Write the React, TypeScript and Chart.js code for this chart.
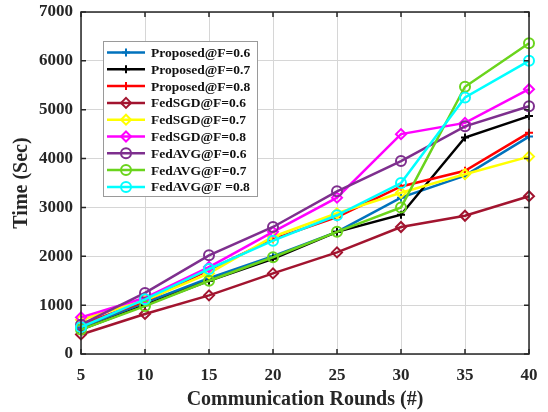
import React, { useEffect, useRef } from "react";
import { Chart, registerables } from "chart.js";

Chart.register(...registerables);

const rounds = [5, 10, 15, 20, 25, 30, 35, 40];
const yMin = 0;
const yMax = 7000;
const yStep = 1000;
const xStep = 5;

const proposed06 = [550, 1050, 1550, 2000, 2500, 3200, 3650, 4450];
const proposed07 = [500, 1000, 1500, 1950, 2500, 2850, 4430, 4870];
const proposed08 = [600, 1080, 1720, 2350, 2800, 3430, 3750, 4530];
const fedsgd06 = [400, 820, 1200, 1650, 2080, 2600, 2830, 3230];
const fedsgd07 = [700, 1100, 1650, 2400, 2880, 3300, 3680, 4040];
const fedsgd08 = [750, 1150, 1780, 2500, 3200, 4500, 4730, 5420];
const fedavg06 = [600, 1250, 2020, 2600, 3330, 3950, 4660, 5070];
const fedavg07 = [500, 980, 1500, 1980, 2500, 3000, 5470, 6360];
const fedavg08 = [550, 1120, 1740, 2320, 2840, 3500, 5250, 6000];

const seriesLabels = [
  "Proposed@F=0.6",
  "Proposed@F=0.7",
  "Proposed@F=0.8",
  "FedSGD@F=0.6",
  "FedSGD@F=0.7",
  "FedSGD@F=0.8",
  "FedAVG@F=0.6",
  "FedAVG@F=0.7",
  "FedAVG@F =0.8",
];
const seriesValues = [
  proposed06, proposed07, proposed08,
  fedsgd06, fedsgd07, fedsgd08,
  fedavg06, fedavg07, fedavg08,
];
const seriesColors = [
  "#0072BD", "#000000", "#FF0000",
  "#A2142F", "#FFFF00", "#FF00FF",
  "#7E2F8E", "#6AD41C", "#00FFFF",
];
const seriesMarkers = [
  "cross", "cross", "cross",
  "rectRot", "rectRot", "rectRot",
  "circle", "circle", "circle",
];

const FONT = "'Liberation Serif', 'Times New Roman', serif";
const AXIS_COLOR = "#262626";

function drawMarker(ctx: CanvasRenderingContext2D, style: string, x: number, y: number, r: number) {
  ctx.beginPath();
  if (style === "cross") {
    ctx.moveTo(x - r, y);
    ctx.lineTo(x + r, y);
    ctx.moveTo(x, y - r);
    ctx.lineTo(x, y + r);
  } else if (style === "rectRot") {
    ctx.moveTo(x, y - r);
    ctx.lineTo(x + r, y);
    ctx.lineTo(x, y + r);
    ctx.lineTo(x - r, y);
    ctx.closePath();
  } else {
    ctx.arc(x, y, r, 0, Math.PI * 2);
  }
  ctx.stroke();
}

const framePlugin = {
  id: "frame",
  afterDraw(chart: any) {
    const { ctx, chartArea } = chart;
    const { left, right, top, bottom } = chartArea;
    const xs = chart.scales.x;
    const ys = chart.scales.y;
    ctx.save();
    ctx.strokeStyle = AXIS_COLOR;
    ctx.lineWidth = 1.5;
    ctx.strokeRect(left, top, right - left, bottom - top);
    const tl = 5;
    ctx.beginPath();
    for (let v = rounds[0]; v <= rounds[rounds.length - 1]; v += xStep) {
      const px = xs.getPixelForValue(v);
      ctx.moveTo(px, bottom);
      ctx.lineTo(px, bottom - tl);
      ctx.moveTo(px, top);
      ctx.lineTo(px, top + tl);
    }
    for (let v = yMin; v <= yMax; v += yStep) {
      const py = ys.getPixelForValue(v);
      ctx.moveTo(left, py);
      ctx.lineTo(left + tl, py);
      ctx.moveTo(right, py);
      ctx.lineTo(right - tl, py);
    }
    ctx.stroke();
    ctx.restore();
  },
};

const legendPlugin = {
  id: "boxLegend",
  afterDraw(chart: any) {
    const { ctx } = chart;
    const bx = 103, by = 41, bw = 154, bh = 155;
    const rowStart = 52.5, rowGap = 16.8;
    ctx.save();
    ctx.fillStyle = "#ffffff";
    ctx.fillRect(bx, by, bw, bh);
    ctx.strokeStyle = "#9a9a9a";
    ctx.lineWidth = 1;
    ctx.strokeRect(bx + 0.5, by + 0.5, bw, bh);
    ctx.font = `bold 13.5px ${FONT}`;
    ctx.textBaseline = "middle";
    ctx.textAlign = "left";
    seriesLabels.forEach((label, i) => {
      const y = rowStart + i * rowGap;
      ctx.strokeStyle = seriesColors[i];
      ctx.lineWidth = 2.5;
      ctx.beginPath();
      ctx.moveTo(107, y);
      ctx.lineTo(145, y);
      ctx.stroke();
      ctx.lineWidth = 2;
      drawMarker(ctx, seriesMarkers[i], 126, y, seriesMarkers[i] === "cross" ? 4 : 5);
      ctx.fillStyle = "#111111";
      ctx.fillText(label, 151, y + 1);
    });
    ctx.restore();
  },
};

export default function App() {
  const ref = useRef<HTMLCanvasElement | null>(null);

  useEffect(() => {
    if (!ref.current) return;
    const datasets = seriesLabels.map((label, i) => ({
      label,
      data: rounds.map((r, j) => ({ x: r, y: seriesValues[i][j] })),
      borderColor: seriesColors[i],
      backgroundColor: seriesColors[i],
      borderWidth: 2.5,
      pointStyle: seriesMarkers[i] as any,
      pointRadius: seriesMarkers[i] === "cross" ? 4 : 5,
      pointBorderWidth: 2,
      pointBorderColor: seriesColors[i],
      pointBackgroundColor: "rgba(0,0,0,0)",
      tension: 0,
      clip: false as any,
      order: seriesLabels.length - i,
    }));

    const chart = new Chart(ref.current, {
      type: "line",
      data: { datasets },
      plugins: [framePlugin, legendPlugin],
      options: {
        animation: false,
        responsive: false,
        maintainAspectRatio: false,
        layout: { padding: { left: 0, top: 12, right: 19, bottom: 0 } },
        plugins: {
          legend: { display: false },
          tooltip: { enabled: false },
        },
        scales: {
          x: {
            type: "linear",
            min: rounds[0],
            max: rounds[rounds.length - 1],
            afterFit: (s: any) => { s.height = 58; s.paddingLeft = 0; s.paddingRight = 0; },
            grid: { color: "#d6d6d6", lineWidth: 1, drawTicks: false },
            border: { display: false },
            ticks: {
              stepSize: xStep,
              padding: 11,
              color: AXIS_COLOR,
              font: { family: FONT, size: 17, weight: "bold" },
              callback: (v: any) => String(v),
            },
            title: {
              display: true,
              text: "Communication Rounds (#)",
              color: AXIS_COLOR,
              padding: { top: 0, bottom: 0 },
              font: { family: FONT, size: 20, weight: "bold" },
            },
          },
          y: {
            type: "linear",
            min: yMin,
            max: yMax,
            afterFit: (s: any) => { s.width = 81; s.paddingTop = 0; s.paddingBottom = 0; },
            grid: { color: "#d6d6d6", lineWidth: 1, drawTicks: false },
            border: { display: false },
            ticks: {
              stepSize: yStep,
              padding: 8,
              color: AXIS_COLOR,
              font: { family: FONT, size: 17, weight: "bold" },
              callback: (v: any) => String(v),
            },
            title: {
              display: true,
              text: "Time (Sec)",
              color: AXIS_COLOR,
              padding: { top: 10, bottom: 0 },
              font: { family: FONT, size: 20, weight: "bold" },
            },
          },
        },
      } as any,
    });
    return () => chart.destroy();
  }, []);

  return (
    <div style={{ position: "fixed", left: 0, top: 0, width: 548, height: 412, background: "#ffffff" }}>
      <canvas ref={ref} width={548} height={412} style={{ width: 548, height: 412, display: "block" }} />
    </div>
  );
}
